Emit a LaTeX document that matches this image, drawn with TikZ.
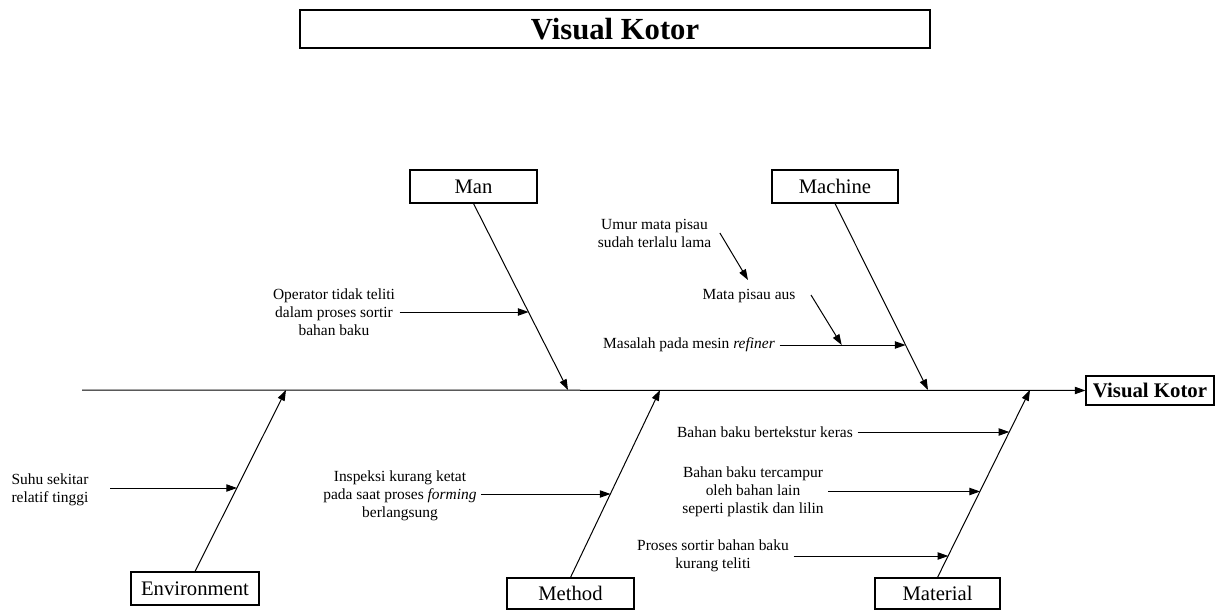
\documentclass[tikz,border=0pt]{standalone}
\usepackage{fontspec}
\setmainfont{Liberation Serif}
\usetikzlibrary{arrows.meta,positioning,calc}

\begin{document}
\begin{tikzpicture}[
    x=0.75pt, y=-0.75pt,
    catbox/.style={rectangle, draw, line width=0.8pt, minimum height=24.75pt, font=\fontsize{15.5}{18}\selectfont},
    cause/.style={align=center, font=\fontsize{11.6}{13.5}\selectfont},
    bone/.style={-{Triangle[length=8pt,width=5.5pt]}, line width=0.75pt},
    arrow/.style={-{Triangle[length=8pt,width=5.5pt]}, line width=0.75pt}
]
    \useasboundingbox (0,0) rectangle (1215,610);

    % Title on top
    \node[draw, line width=0.9pt, minimum width=472.5pt, minimum height=28.5pt, font=\fontsize{23}{27}\selectfont\bfseries] (title) at (615,29) {Visual Kotor};

    % Head and spine
    \node[draw, line width=0.8pt, minimum width=96pt, minimum height=21.75pt, font=\fontsize{15.6}{18}\selectfont\bfseries] (effect) at (1150,390.5) {Visual Kotor};
    \coordinate (tail) at (82,390);
    \draw[bone] (tail) -- (effect.west);

    % Category boxes (top row)
    \node[catbox, minimum width=95.25pt] (man) at (473.5,186.5) {Man};
    \node[catbox, minimum width=94.5pt] (machine) at (835,186.5) {Machine};

    % Category boxes (bottom row)
    \node[catbox, minimum width=96pt] (env) at (195,588.5) {Environment};
    \node[catbox, minimum width=95.25pt, minimum height=23.25pt] (method) at (570.5,593.5) {Method};
    \node[catbox, minimum width=93.75pt, minimum height=23.25pt] (material) at (937.5,593.5) {Material};

    % Where the bones meet the spine
    \coordinate (manhead) at (568,390);
    \coordinate (machead) at (928,390);
    \coordinate (envhead) at (286,390);
    \coordinate (methead) at (660,390);
    \coordinate (mathead) at (1030,390);

    \draw[bone] (man.south) -- (manhead);
    \draw[bone] (machine.south) -- (machead);
    \draw[bone] (env.north) -- (envhead);
    \draw[bone] (method.north) -- (methead);
    \draw[bone] (material.north) -- (mathead);

    % Man
    \node[cause] (operator) at (334,312) {Operator tidak teliti\\dalam proses sortir\\bahan baku};
    \coordinate (manhit) at (528.6,312);
    \draw[arrow] (operator.east) -- (manhit);

    % Machine
    \node[cause] (umur) at (654.5,233) {Umur mata pisau\\sudah terlalu lama};
    \node[cause] (aus) at (749,296.5) {Mata pisau aus};
    \node[cause] (refiner) at (689,345) {Masalah pada mesin \textit{refiner}};
    \coordinate (umurtip) at (748,280);
    \coordinate (austail) at (811,295);
    \coordinate (aushit) at (841.7,345);
    \coordinate (machit) at (905.6,345);
    \draw[arrow] ([xshift=3pt]umur.east) -- (umurtip);
    \draw[arrow] (austail) -- (aushit);
    \draw[arrow] (refiner.east) -- (machit);

    % Environment
    \node[cause] (suhu) at (50,490) {Suhu sekitar\\relatif tinggi};
    \coordinate (envhit) at (237,488);
    \draw[arrow] ([xshift=13pt]suhu.east |- envhit) -- (envhit);

    % Method
    \node[cause] (inspeksi) at (400,496) {Inspeksi kurang ketat\\pada saat proses \textit{forming}\\berlangsung};
    \coordinate (methit) at (610.5,494);
    \draw[arrow] (inspeksi.east |- methit) -- (methit);

    % Material
    \node[cause] (keras) at (765,432) {Bahan baku bertekstur keras};
    \node[cause] (campur) at (753,491.5) {Bahan baku tercampur\\oleh bahan lain\\seperti plastik dan lilin};
    \node[cause] (sortir) at (713,556) {Proses sortir bahan baku\\kurang teliti};
    \coordinate (mathit1) at (1009.3,432);
    \coordinate (mathit2) at (980.1,491.5);
    \coordinate (mathit3) at (948.3,556);
    \draw[arrow] (keras.east) -- (mathit1);
    \draw[arrow] (campur.east) -- (mathit2);
    \draw[arrow] (sortir.east) -- (mathit3);
\end{tikzpicture}
\end{document}
